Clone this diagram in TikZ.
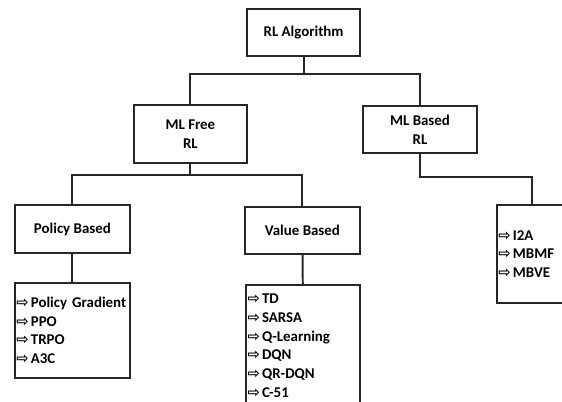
\documentclass[tikz,border=0pt]{standalone}
\usepackage{fontspec}
\setmainfont{Carlito}
\newfontfamily\symfont{DejaVu Sans}
\usetikzlibrary{positioning}
\newcommand{\itm}{{\symfont\bfseries\fontsize{10.5}{10}\selectfont ⇨}\hspace{1.5pt}}
\begin{document}
\begin{tikzpicture}[
  box/.style={draw=black!85, line width=1.4pt, align=center, font=\bfseries\fontsize{10.6}{13.5}\selectfont, inner sep=2pt},
  listbox/.style={box, align=left, inner xsep=1pt, font=\bfseries\fontsize{10.6}{13.3}\selectfont},
  link/.style={draw=black!85, line width=1.4pt}
]
\useasboundingbox (0,0) rectangle (14.05,-10.05);
\clip (0,0) rectangle (14.05,-10.05);
\node[box, minimum width=2.83cm, minimum height=1.18cm] (rl) at (7.59,-0.81) {RL Algorithm};
\node[box, minimum width=2.83cm, minimum height=1.45cm] (mlfree) at (4.76,-3.35) {ML Free\\RL};
\node[box, minimum width=2.85cm, minimum height=1.18cm] (mlbased) at (10.5,-3.24) {ML Based\\RL};
\node[box, minimum width=2.88cm, minimum height=1.2cm] (policy) at (1.81,-5.73) {Policy Based};
\node[box, minimum width=2.88cm, minimum height=1.18cm] (value) at (7.56,-5.76) {Value Based};
\node[listbox, text width=2.8cm, minimum height=2.38cm] (plist) at (1.81,-8.26)
  {\itm Policy Gradient\\\itm PPO\\\itm TRPO\\\itm A3C};
\node[listbox, text width=2.78cm, minimum height=3.03cm] (vlist) at (7.58,-8.64)
  {\itm TD\\\itm SARSA\\\itm Q-Learning\\\itm DQN\\\itm QR-DQN\\\itm C-51};
\node[listbox, text width=1.68cm, minimum height=2.45cm] (blist) at (13.3,-6.35)
  {\itm I2A\\\itm MBMF\\\itm MBVE};
% tree links
\draw[link] (rl.south) -- ++(0,-0.42) -| (mlfree.north);
\draw[link] (rl.south) -- ++(0,-0.42) -| (mlbased.north);
\draw[link] (mlfree.south) -- ++(0,-0.28) -| (policy.north);
\draw[link] (mlfree.south) -- ++(0,-0.28) -| (value.north);
\draw[link] (mlbased.south) -- ++(0,-0.58) -| (blist.north);
\draw[link] (policy) -- (plist);
\draw[link] (value) -- (vlist);
\end{tikzpicture}
\end{document}
